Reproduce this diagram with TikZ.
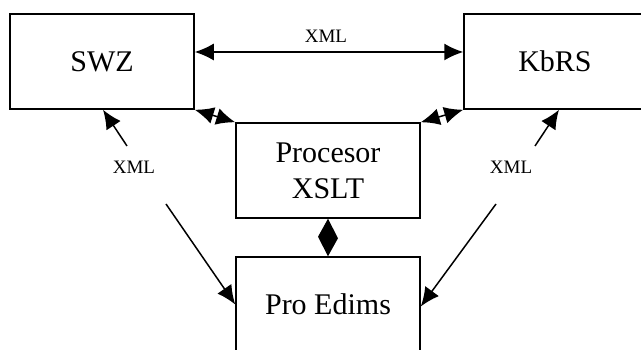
\documentclass[tikz,border=0pt]{standalone}
\usepackage{fontspec}
\setmainfont{Liberation Serif}
\usetikzlibrary{arrows.meta}
\begin{document}
\begin{tikzpicture}[x=1pt,y=1pt,
  box/.style={draw,line width=1.5pt,inner sep=0pt,minimum width=184pt,minimum height=95pt,
    align=center,font=\fontsize{30}{36}\selectfont},
  lbl/.style={inner sep=0pt,font=\fontsize{19}{22}\selectfont},
  arr/.style={line width=1.5pt,-{Latex[length=19pt,width=17pt]}},
  darr/.style={line width=1.5pt,{Latex[length=19pt,width=17pt]}-{Latex[length=19pt,width=17pt]}}]
\useasboundingbox (0,0) rectangle (641,350);
\clip (0,0) rectangle (641,350);
\fill[white] (0,0) rectangle (641,350);
\node[box] (swz) at (102,288.5) {SWZ};
\node[box,minimum width=182pt] (kbrs) at (555,288.5) {KbRS};
\node[box] (proc) at (328,179.5) {Procesor\\XSLT};
\node[box] (proe) at (328,45.5) {Pro Edims};
\node[lbl] (xt) at (326,314) {XML};
\node[lbl] (xl) at (134,183) {XML};
\node[lbl] (xr) at (511,183) {XML};
\draw[darr] ([yshift=9.5pt]swz.east) -- ([yshift=9.5pt]kbrs.west);
\draw[darr] (swz.south east) -- (proc.north west);
\draw[darr] (kbrs.south west) -- (proc.north east);
\fill (proc.south) -- ++(10,-19.5) -- (proe.north) -- ++(-10,19.5) -- cycle;
\coordinate (l1) at (127,204);
\coordinate (l2) at (166,146);
\coordinate (r1) at (535,204);
\coordinate (r2) at (496,146);
\draw[arr] (l1) -- ([xshift=1pt]swz.south);
\draw[arr] (l2) -- (proe.west);
\draw[arr] (r1) -- ([xshift=4pt]kbrs.south);
\draw[arr] (r2) -- ([yshift=-2pt]proe.east);
\end{tikzpicture}
\end{document}
